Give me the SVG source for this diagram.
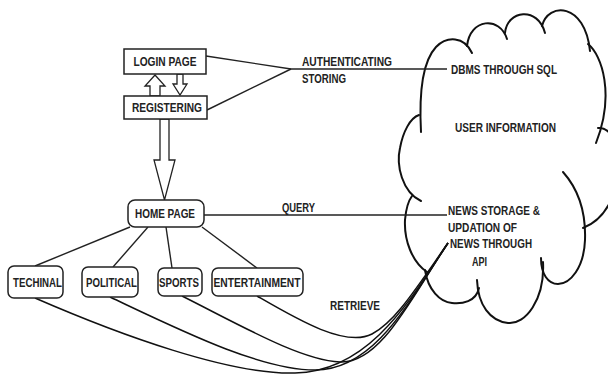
<svg xmlns="http://www.w3.org/2000/svg" width="608" height="375" viewBox="0 0 608 375">
<style>
text{font-family:"Liberation Sans",Arial,sans-serif;font-weight:bold;font-size:13px;fill:#222;}
.box{fill:#fff;stroke:#222;stroke-width:1.5;}
.ln{fill:none;stroke:#222;stroke-width:1.4;}
.cv{fill:none;stroke:#111;stroke-width:1.5;}
.cl{fill:none;stroke:#111;stroke-width:2;stroke-linecap:round;}
.ar{fill:#fff;stroke:#222;stroke-width:1.3;stroke-linejoin:miter;}
.m{text-anchor:middle;}
</style>
<rect width="608" height="375" fill="#fff"/>
<g id="cloud">
<path class="cl" d="M421,132 C419,95 422,62 436,47 C447,36 464,36 472,53"/>
<path class="cl" d="M467,46 C470,18 500,16 507,39"/>
<path class="cl" d="M505,33 C507,10 538,6 545,33"/>
<path class="cl" d="M542,26 C548,2 585,2 590,51"/>
<path class="cl" d="M588,44 C602,55 615,95 596,143"/>
<path class="cl" d="M598,128 C625,125 630,210 583,228"/>
<path class="cl" d="M563,172 C579,190 586,212 585,240 C584,268 570,284 558,284 C548,284 541,274 541,258"/>
<path class="cl" d="M543,262 C545,300 525,325 508,323 C490,321 478,305 477,280"/>
<path class="cl" d="M479,288 C476,302 462,304 452,303 C440,302 428,290 425,270"/>
<path class="cl" d="M427,272 C412,262 404,240 405,220 C406,208 409,200 412,196"/>
<path class="cl" d="M421,201 C402,192 396,165 400,148 C403,132 410,118 419,115"/>
<text x="451" y="74" textLength="106" lengthAdjust="spacingAndGlyphs">DBMS THROUGH SQL</text>
<text x="455" y="132" textLength="101" lengthAdjust="spacingAndGlyphs">USER INFORMATION</text>
<text x="448" y="215" textLength="92" lengthAdjust="spacingAndGlyphs">NEWS STORAGE &amp;</text>
<text x="448" y="232" textLength="69" lengthAdjust="spacingAndGlyphs">UPDATION OF</text>
<text x="450" y="248" textLength="82" lengthAdjust="spacingAndGlyphs">NEWS THROUGH</text>
<text x="472" y="266" textLength="15" lengthAdjust="spacingAndGlyphs">API</text>
</g>
<g id="connectors">
<line class="ln" x1="206" y1="56" x2="291" y2="69"/>
<line class="ln" x1="207" y1="110" x2="291" y2="69"/>
<line class="ln" x1="291" y1="69" x2="447" y2="69"/>
<line class="ln" x1="204" y1="215" x2="447" y2="215"/>
<line class="ln" x1="130" y1="227" x2="35" y2="266"/>
<line class="ln" x1="148" y1="227" x2="113" y2="267"/>
<line class="ln" x1="166" y1="227" x2="172" y2="268"/>
<line class="ln" x1="202" y1="227" x2="257" y2="268"/>
<path class="cv" d="M257,296 C295,318 345,348 372,334 C395,322 415,290 448,243"/>
<path class="cv" d="M182,296 C240,325 300,360 340,362 C380,364 410,300 448,243"/>
<path class="cv" d="M110,297 C180,330 260,370 315,370 C375,370 410,300 448,243"/>
<path class="cv" d="M35,298 C120,335 230,375 295,373 C370,371 410,300 448,243"/>
<polygon class="ar" points="155,75 165,86 160,86 160,96 150,96 150,86 145,86"/>
<polygon class="ar" points="177,74 183,74 183,84 187,84 180,95 173,84 177,84"/>
<polygon class="ar" points="160,119 169,119 169,160 175,160 164.5,200 154,160 160,160"/>
<text x="302" y="66" textLength="90" lengthAdjust="spacingAndGlyphs">AUTHENTICATING</text>
<text x="302" y="83" textLength="44" lengthAdjust="spacingAndGlyphs">STORING</text>
<text x="282" y="212" textLength="33" lengthAdjust="spacingAndGlyphs">QUERY</text>
<text x="330" y="310" textLength="50" lengthAdjust="spacingAndGlyphs">RETRIEVE</text>
</g>
<g id="login">
<rect class="box" x="124" y="49" width="82" height="25"/>
<text class="m" x="165" y="66" textLength="63" lengthAdjust="spacingAndGlyphs">LOGIN PAGE</text>
</g>
<g id="registering">
<rect class="box" x="124" y="96" width="83" height="23"/>
<text class="m" x="167" y="112" textLength="70" lengthAdjust="spacingAndGlyphs">REGISTERING</text>
</g>
<g id="home">
<rect class="box" x="128" y="200" width="76" height="27" rx="7"/>
<text class="m" x="165" y="218" textLength="60" lengthAdjust="spacingAndGlyphs">HOME PAGE</text>
</g>
<g id="techinal">
<rect class="box" x="8" y="266" width="55" height="32" rx="6"/>
<text class="m" x="37.5" y="287" textLength="49" lengthAdjust="spacingAndGlyphs">TECHINAL</text>
</g>
<g id="political">
<rect class="box" x="82" y="267" width="56" height="30" rx="6"/>
<text class="m" x="111.5" y="287" textLength="51" lengthAdjust="spacingAndGlyphs">POLITICAL</text>
</g>
<g id="sports">
<rect class="box" x="158" y="268" width="44" height="28" rx="6"/>
<text class="m" x="179" y="287" textLength="40" lengthAdjust="spacingAndGlyphs">SPORTS</text>
</g>
<g id="entertainment">
<rect class="box" x="212" y="268" width="91" height="28" rx="6"/>
<text class="m" x="257" y="287" textLength="87" lengthAdjust="spacingAndGlyphs">ENTERTAINMENT</text>
</g>
</svg>
